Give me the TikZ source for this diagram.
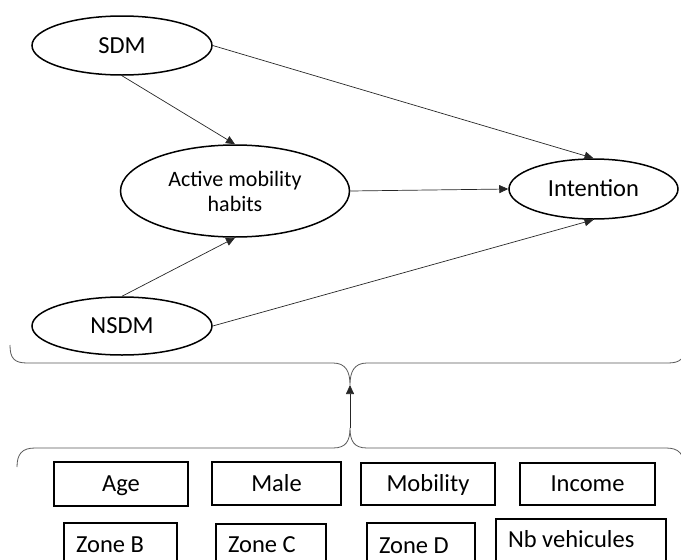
\documentclass[tikz,border=0pt]{standalone}
\usepackage{fontspec}
\setmainfont{Carlito}
\usetikzlibrary{arrows.meta,shapes.geometric}
\begin{document}
\begin{tikzpicture}[x=1pt,y=-1pt,
  big/.style={font=\fontsize{24.5}{29}\selectfont,text height=15.8pt,text depth=0pt},
  ell/.style={draw,ellipse,line width=1.5pt,inner sep=0pt,big},
  box/.style={draw,rectangle,line width=1.4pt,inner sep=0pt,big},
  lbox/.style={box,inner xsep=12pt,align=flush left},
  link/.style={line width=0.7pt,draw=black!85,-{Triangle[length=9pt,width=8pt]}},
  brc/.style={line width=0.8pt,draw=black!65}]
\useasboundingbox (0,0) rectangle (681,560);
\clip (0,0) rectangle (681,560);

% latent variables
\node[ell,minimum width=180pt,minimum height=59pt] (sdm) at (122,45.5) {SDM};
\node[ell,minimum width=180pt,minimum height=58pt] (nsdm) at (122,326) {NSDM};
\node[ell,minimum width=229pt,minimum height=92pt,align=center,
      font=\fontsize{22}{25}\selectfont,text height=,text depth=] (amh) at (235,191)
      {Active mobility\\habits};
\node[ell,minimum width=169pt,minimum height=60pt] (int) at (593.5,189) {Intention};

% paths
\draw[link] (sdm.south) -- (amh.north);
\draw[link] (sdm.east) -- (int.north);
\draw[link] (amh.east) -- (int.west);
\draw[link] (nsdm.north) -- (amh.south);
\draw[link] (nsdm.east) -- (int.south);

% braces
\coordinate (tt) at (350,385);
\coordinate (bt) at (350,428);
\draw[brc] (10,345) .. controls (10,358) and (14,363) .. (27,363) -- (333,363)
  .. controls (346,363) and (350,372) .. (tt)
  .. controls (350,372) and (354,363) .. (367,363) -- (668,363)
  .. controls (681,363) and (685,358) .. (685,345);
\draw[brc] (17,467) .. controls (17,454) and (22,448) .. (35,448) -- (333,448)
  .. controls (346,448) and (350,441) .. (bt)
  .. controls (350,441) and (354,448) .. (367,448) -- (666,448)
  .. controls (679,448) and (684,454) .. (684,467);
\draw[link] (bt) -- (tt);

% control variables, row 1
\node[box,minimum width=134pt,minimum height=44pt] (age) at (121,484) {Age};
\node[box,minimum width=129pt,minimum height=43pt] (male) at (276.5,483.5) {Male};
\node[box,minimum width=134pt,minimum height=42pt] (mob) at (428,484) {Mobility};
\node[box,minimum width=135pt,minimum height=42pt] (inc) at (587.5,484) {Income};

% control variables, row 2
\node[lbox,text width=89pt,minimum height=44pt] (zb) at (120.5,545) {Zone B};
\node[lbox,text width=86pt,minimum height=42pt] (zc) at (271,545) {Zone C};
\node[lbox,text width=84pt,minimum height=46pt] (zd) at (421,546) {Zone D};
\node[lbox,text width=146pt,minimum height=42pt] (nb) at (581,540) {Nb vehicules};
\end{tikzpicture}
\end{document}
